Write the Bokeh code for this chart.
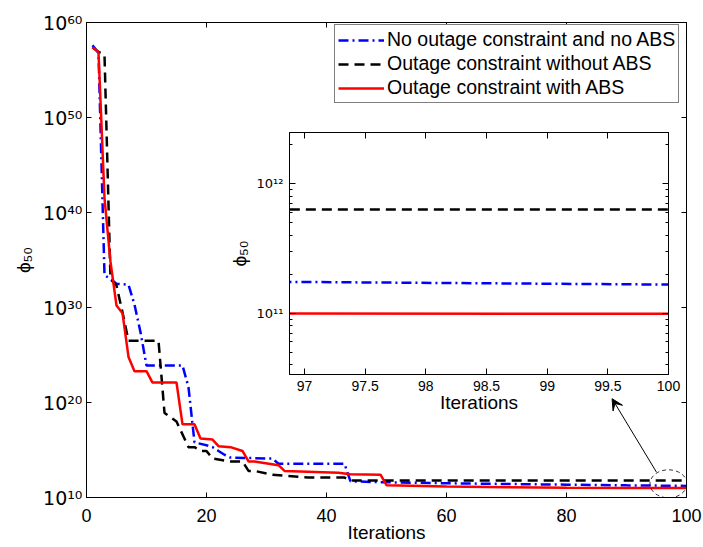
import numpy as np
from bokeh.plotting import figure
from bokeh.models import (FixedTicker, Legend, LegendItem, Arrow, VeeHead,
                          CustomJSTickFormatter, LinearAxis, LogAxis, Range1d)
from bokeh.layouts import column
from bokeh.embed import file_html
from bokeh.resources import INLINE

FONT = "Liberation Sans"
SUPFONT = "DejaVu Sans"

# ---------------- data (phi_50 values given as log10 exponents) ----------------
blue_x = [1, 2, 3, 4, 5, 7, 8, 9, 10, 16, 17, 18, 20, 21, 22, 23, 24, 31, 32, 43, 44,
          50, 60, 70, 80, 90, 97, 100]
blue_log = [57.6, 56.8, 33.4, 33.0, 32.5, 32.4, 30.3, 27.4, 23.9, 23.9, 21.6, 15.8, 15.5,
            15.3, 14.9, 14.5, 14.2, 14.1, 13.55, 13.55, 11.7,
            11.6, 11.5, 11.42, 11.35, 11.28, 11.24, 11.22]

black_x = [1, 2, 3, 4, 5, 6, 7, 12, 13, 15, 17, 18, 19, 20, 21, 22, 24, 26, 27, 28, 31,
           37, 43, 44, 100]
black_log = [57.4, 56.9, 56.6, 33.0, 32.3, 29.5, 26.5, 26.5, 18.9, 18.0, 15.3, 15.3, 14.9,
             14.9, 14.1, 14.0, 13.8, 13.8, 12.8, 12.8, 12.4, 12.1, 12.1, 11.8, 11.8]

red_x = [1, 2, 3, 4, 5, 6, 7, 8, 10, 11, 15, 16, 18, 19, 21, 22, 24, 26, 27, 28, 32, 33,
         42, 44, 49, 50, 60, 70, 80, 90, 100]
red_log = [57.4, 56.9, 41.5, 34.8, 30.2, 29.4, 24.8, 23.3, 23.3, 22.1, 22.1, 17.7, 17.7,
           16.2, 16.1, 15.4, 15.3, 14.9, 13.8, 13.8, 13.4, 12.8, 12.6, 12.45, 12.4, 11.3,
           11.15, 11.07, 11.02, 11.0, 10.995]

series_labels = ["No outage constraint and no ABS",
                 "Outage constraint without ABS",
                 "Outage constraint with ABS"]

x_ticks = [0, 20, 40, 60, 80, 100]
y_tick_exp = [10, 20, 30, 40, 50, 60]
inset_x_ticks = [97, 97.5, 98, 98.5, 99, 99.5, 100]
inset_y_tick_exp = [11, 12]
inset_minor_mult = [2, 3, 4, 5, 6, 7, 8, 9]
inset_minor_dec = [10, 11, 12]

x_label = "Iterations"
y_label = "\u03d5\u2085\u2080"

# ---------------- helpers ----------------
SUP_JS = r"""
const s = ["\u2070","\u00b9","\u00b2","\u00b3","\u2074","\u2075","\u2076","\u2077","\u2078","\u2079"];
const e = Math.round(Math.log10(tick));
return "10" + String(e).split("").map(c => s[+c]).join("");
"""

styles = [
    dict(color="#0000ff", dash="10 4 2 4"),
    dict(color="#000000", dash="10 6"),
    dict(color="#ff0000", dash="solid"),
]
xs = [blue_x, black_x, red_x]
ys = [10 ** np.array(blue_log), 10 ** np.array(black_log), 10 ** np.array(red_log)]


def style_axis(ax, tick_in, minor_in=0):
    ax.axis_line_color = "black"
    ax.axis_line_width = 1
    ax.major_tick_line_color = "black"
    ax.minor_tick_line_color = "black"
    ax.major_tick_in = tick_in
    ax.major_tick_out = 0
    ax.minor_tick_in = minor_in
    ax.minor_tick_out = 0
    ax.major_label_text_font = FONT
    ax.axis_label_text_font = FONT
    ax.axis_label_text_font_style = "normal"
    ax.major_label_text_color = "black"
    ax.axis_label_text_color = "black"


def mirror_axis(cls, ticker, tick_in, minor_in=0):
    ax = cls(ticker=ticker, major_label_text_font_size="1px", major_label_standoff=0,
             major_label_text_alpha=0)
    style_axis(ax, tick_in, minor_in)
    return ax


# ---------------- main figure ----------------
p = figure(width=703, height=547, x_range=Range1d(0, 100), y_range=Range1d(1e10, 1e60),
           y_axis_type="log", output_backend="svg", toolbar_location=None,
           min_border_left=84, min_border_right=17, min_border_top=22, min_border_bottom=50)
p.grid.visible = False
p.outline_line_color = "black"
p.outline_line_width = 1
p.background_fill_color = "white"
p.border_fill_color = "white"

xt_main = FixedTicker(ticks=x_ticks, minor_ticks=[])
yt_main = FixedTicker(ticks=[10.0 ** e for e in y_tick_exp], minor_ticks=[])

xa = p.xaxis[0]
xa.ticker = xt_main
style_axis(xa, 5)
xa.major_label_text_font_size = "18px"
xa.major_label_standoff = 11
xa.axis_label = x_label
xa.axis_label_text_font_size = "19px"
xa.axis_label_standoff = -3

ya = p.yaxis[0]
ya.ticker = yt_main
ya.formatter = CustomJSTickFormatter(code=SUP_JS)
style_axis(ya, 5)
ya.major_label_text_font = SUPFONT
ya.major_label_text_font_size = "19px"
ya.major_label_standoff = 4
ya.axis_label = y_label
ya.axis_label_text_font_size = "19px"
ya.axis_label_standoff = 6

p.add_layout(mirror_axis(LinearAxis, xt_main, 5), "above")
p.add_layout(mirror_axis(LogAxis, yt_main, 5), "right")

renderers = []
for x, y, st in zip(xs, ys, styles):
    r = p.line(x, y, line_color=st["color"], line_width=2.5, line_dash=st["dash"])
    renderers.append(r)

legend = Legend(items=[LegendItem(label=lab, renderers=[r]) for lab, r in zip(series_labels, renderers)],
                location=(248, 394))
legend.label_text_font = FONT
legend.label_text_font_size = "19.5px"
legend.label_text_color = "black"
legend.glyph_width = 46
legend.glyph_height = 20
legend.label_height = 20
legend.label_standoff = 3
legend.spacing = 1
legend.padding = 3
legend.margin = 0
legend.border_line_color = "black"
legend.border_line_width = 1
legend.background_fill_alpha = 1.0
p.add_layout(legend)

# zoom annotation: dashed ellipse + arrow
p.ellipse(x=[97.0], y=[10 ** 11.44], width=37, height=28, width_units="screen",
          height_units="screen", fill_color=None, line_color="black", line_dash="4 3",
          line_width=0.8)
p.add_layout(Arrow(end=VeeHead(size=11, fill_color="black", line_color="black", line_width=1),
                   x_start=95.0, y_start=10 ** 12.66, x_end=87.6, y_end=10 ** 20.4,
                   line_color="black", line_width=1))

# ---------------- inset figure ----------------
p2 = figure(width=482, height=312, x_range=Range1d(96.876, 100),
            y_range=Range1d(10 ** 10.526, 10 ** 12.394), y_axis_type="log",
            output_backend="svg", toolbar_location=None,
            min_border_left=86, min_border_right=17, min_border_top=20, min_border_bottom=50,
            margin=(112 - 547, 0, 0, 203))
p2.grid.visible = False
p2.outline_line_color = "black"
p2.outline_line_width = 1
p2.background_fill_color = "white"
p2.border_fill_color = None

xt_in = FixedTicker(ticks=inset_x_ticks, minor_ticks=[])
yt_in = FixedTicker(ticks=[10.0 ** e for e in inset_y_tick_exp],
                    minor_ticks=[m * 10.0 ** d for d in inset_minor_dec for m in inset_minor_mult])

xa2 = p2.xaxis[0]
xa2.ticker = xt_in
xa2.formatter = CustomJSTickFormatter(code="return String(tick);")
style_axis(xa2, 6)
xa2.major_label_text_font_size = "14px"
xa2.major_label_standoff = 6
xa2.axis_label = x_label
xa2.axis_label_text_font_size = "19px"
xa2.axis_label_standoff = -2

ya2 = p2.yaxis[0]
ya2.ticker = yt_in
ya2.formatter = CustomJSTickFormatter(code=SUP_JS)
style_axis(ya2, 6, 3)
ya2.major_label_text_font = SUPFONT
ya2.major_label_text_font_size = "13px"
ya2.major_label_standoff = 6
ya2.axis_label = y_label
ya2.axis_label_text_font_size = "19px"
ya2.axis_label_standoff = 4

p2.add_layout(mirror_axis(LinearAxis, xt_in, 6), "above")
p2.add_layout(mirror_axis(LogAxis, yt_in, 6, 3), "right")

for x, y, st in zip(xs, ys, styles):
    p2.line(x, y, line_color=st["color"], line_width=2.5, line_dash=st["dash"])

layout = column(p, p2, spacing=0)
open("out.html", "w", encoding="utf-8").write(file_html(layout, INLINE))
